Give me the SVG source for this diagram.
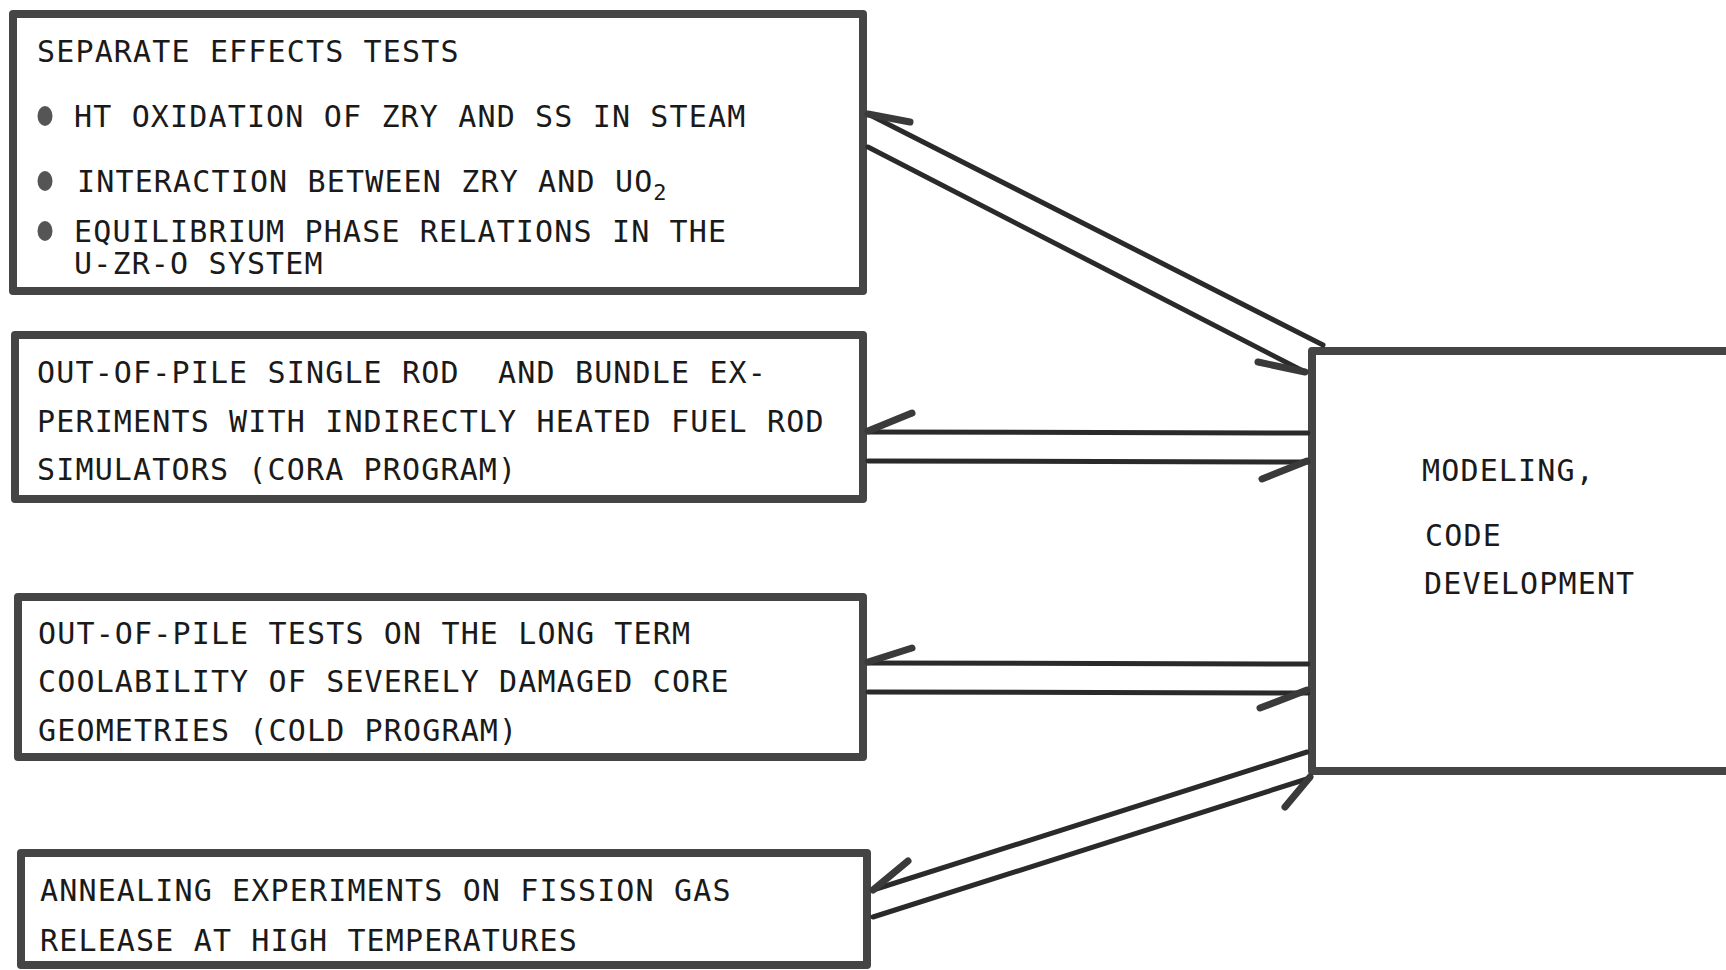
<svg xmlns="http://www.w3.org/2000/svg" width="1726" height="970" viewBox="0 0 1726 970">
<style>
.box{fill:#fff;stroke:#454545;stroke-width:8;stroke-linejoin:round;stroke-linecap:round}
.open{fill:none;stroke:#454545;stroke-width:8;stroke-linejoin:round;stroke-linecap:round}
.t{font-family:"DejaVu Sans Mono","Liberation Mono",monospace;font-size:30px;letter-spacing:1.15px;fill:#1a1a1a;white-space:pre}
.sub{font-size:22px}
.bul{fill:#555}
.ln{stroke:#2a2a2a;stroke-width:5;stroke-linecap:round;fill:none}
.barb{stroke:#3a3a3a;stroke-width:7;stroke-linecap:round;fill:none}
</style>
<rect width="1726" height="970" fill="#fff"/>
<g id="separate-effects">
<rect class="box" x="13" y="14" width="850" height="277"/>
<text class="t" x="37" y="62">SEPARATE EFFECTS TESTS</text>
<ellipse class="bul" cx="45" cy="116" rx="7.5" ry="10"/>
<text class="t" x="74" y="127">HT OXIDATION OF ZRY AND SS IN STEAM</text>
<ellipse class="bul" cx="45" cy="181" rx="7.5" ry="10"/>
<text class="t" x="77" y="192">INTERACTION BETWEEN ZRY AND UO<tspan class="sub" dy="8">2</tspan></text>
<ellipse class="bul" cx="45" cy="231" rx="7.5" ry="10"/>
<text class="t" x="74" y="242">EQUILIBRIUM PHASE RELATIONS IN THE</text>
<text class="t" x="74" y="274">U-ZR-O SYSTEM</text>
</g>
<g id="cora">
<rect class="box" x="15" y="335" width="848" height="164"/>
<text class="t" x="37" y="383">OUT-OF-PILE SINGLE ROD  AND BUNDLE EX-</text>
<text class="t" x="37" y="432">PERIMENTS WITH INDIRECTLY HEATED FUEL ROD</text>
<text class="t" x="37" y="480">SIMULATORS (CORA PROGRAM)</text>
</g>
<g id="cold">
<rect class="box" x="18" y="597" width="845" height="160"/>
<text class="t" x="38" y="644">OUT-OF-PILE TESTS ON THE LONG TERM</text>
<text class="t" x="38" y="692">COOLABILITY OF SEVERELY DAMAGED CORE</text>
<text class="t" x="38" y="741">GEOMETRIES (COLD PROGRAM)</text>
</g>
<g id="annealing">
<rect class="box" x="21" y="853" width="846" height="112"/>
<text class="t" x="40" y="901">ANNEALING EXPERIMENTS ON FISSION GAS</text>
<text class="t" x="40" y="951">RELEASE AT HIGH TEMPERATURES</text>
</g>
<g id="modeling">
<path class="open" d="M1732,351 L1312,351 L1312,771 L1732,771"/>
<text class="t" x="1422" y="481">MODELING,</text>
<text class="t" x="1425" y="546">CODE</text>
<text class="t" x="1424" y="594">DEVELOPMENT</text>
</g>
<g id="connectors">
<line class="ln" x1="868" y1="114" x2="1323" y2="345"/>
<line class="barb" x1="868" y1="114" x2="910" y2="122"/>
<line class="ln" x1="868" y1="147" x2="1305" y2="372"/>
<line class="barb" x1="1258" y1="362" x2="1305" y2="372"/>
<line class="ln" x1="868" y1="432" x2="1308" y2="433"/>
<line class="barb" x1="868" y1="431" x2="912" y2="413"/>
<line class="ln" x1="868" y1="461" x2="1308" y2="462"/>
<line class="barb" x1="1262" y1="479" x2="1307" y2="461"/>
<line class="ln" x1="868" y1="663" x2="1308" y2="664"/>
<line class="barb" x1="868" y1="662" x2="912" y2="648"/>
<line class="ln" x1="868" y1="692" x2="1308" y2="693"/>
<line class="barb" x1="1260" y1="708" x2="1307" y2="690"/>
<line class="ln" x1="873" y1="890" x2="1307" y2="752"/>
<line class="barb" x1="873" y1="890" x2="908" y2="861"/>
<line class="ln" x1="873" y1="917" x2="1310" y2="778"/>
<line class="barb" x1="1285" y1="807" x2="1310" y2="777"/>
</g>
</svg>
